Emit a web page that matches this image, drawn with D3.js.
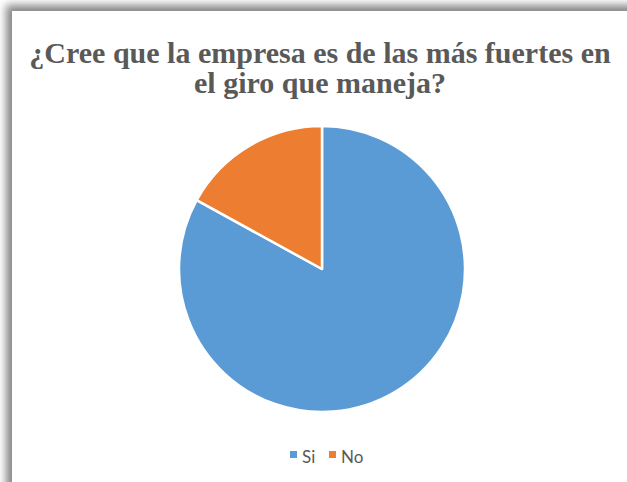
<!DOCTYPE html>
<html>
<head>
<meta charset="utf-8">
<script src="https://cdn.jsdelivr.net/npm/d3@7"></script>
<style>
  html, body { margin: 0; padding: 0; background: #ffffff; }
  svg { display: block; }
</style>
</head>
<body>
<script>
// Survey answers
const categories = ["Si", "No"];
const values = [83, 17];
const colors = ["#5b9bd5", "#ed7d31"];
const titleLines = ["¿Cree que la empresa es de las más fuertes en", "el giro que maneja?"];

const W = 627, H = 482;
const svg = d3.select("body").append("svg").attr("width", W).attr("height", H);

// soft shadow of the chart frame (top and left)
const defs = svg.append("defs");
const blur = defs.append("filter").attr("id", "frameShadow")
  .attr("x", "-10%").attr("y", "-10%").attr("width", "120%").attr("height", "120%");
blur.append("feGaussianBlur").attr("stdDeviation", 4.5);

svg.append("rect")
  .attr("x", 6).attr("y", 5).attr("width", W + 20).attr("height", H + 20)
  .attr("fill", "#858585")
  .attr("filter", "url(#frameShadow)");

// chart frame
svg.append("rect")
  .attr("x", 12).attr("y", 11).attr("width", W).attr("height", H)
  .attr("fill", "#ffffff");

// title
const title = svg.append("text")
  .attr("text-anchor", "middle")
  .attr("font-family", "'Liberation Serif', 'Times New Roman', serif")
  .attr("font-weight", "bold")
  .attr("font-size", 30)
  .attr("fill", "#595959");
titleLines.forEach((t, i) => {
  title.append("tspan").attr("x", 320).attr("y", 63 + i * 30).text(t);
});

// pie
const cx = 322, cy = 269, r = 143;
const pie = d3.pie().sort(null).value(d => d.v);
const arc = d3.arc().innerRadius(0).outerRadius(r);
const data = categories.map((c, i) => ({ c, v: values[i], col: colors[i] }));

svg.append("g")
  .attr("transform", `translate(${cx},${cy})`)
  .selectAll("path")
  .data(pie(data))
  .join("path")
  .attr("d", arc)
  .attr("fill", d => d.data.col)
  .attr("stroke", "#ffffff")
  .attr("stroke-width", 2.5)
  .attr("stroke-linejoin", "round");

// legend
const legendX = [290, 329];
const legend = svg.append("g")
  .attr("font-family", "Lato, 'Open Sans', sans-serif")
  .attr("font-size", 17)
  .attr("fill", "#595959");
data.forEach((d, i) => {
  legend.append("rect")
    .attr("x", legendX[i]).attr("y", 451)
    .attr("width", 7).attr("height", 7)
    .attr("fill", d.col);
  legend.append("text")
    .attr("x", legendX[i] + 12).attr("y", 463)
    .text(d.c);
});
</script>
</body>
</html>
